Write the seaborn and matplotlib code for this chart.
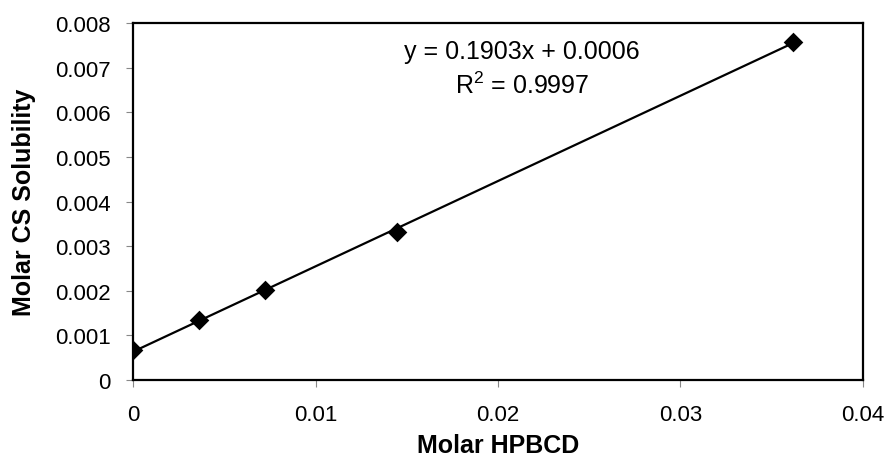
import matplotlib
matplotlib.use("Agg")
import matplotlib.pyplot as plt
import seaborn as sns
import numpy as np
import pandas as pd

# values
hpbcd = [0.0, 0.0036, 0.00723, 0.01445, 0.03615]
cs_solubility = [0.00067, 0.00134, 0.00202, 0.00331, 0.00758]
x_ticks = [0, 0.01, 0.02, 0.03, 0.04]
x_tick_labels = ["0", "0.01", "0.02", "0.03", "0.04"]
y_ticks = [0, 0.001, 0.002, 0.003, 0.004, 0.005, 0.006, 0.007, 0.008]
y_tick_labels = ["0", "0.001", "0.002", "0.003", "0.004", "0.005", "0.006", "0.007", "0.008"]
equation_text = "y = 0.1903x + 0.0006"
r2_text = "R$^2$ = 0.9997"

df = pd.DataFrame({"Molar HPBCD": hpbcd, "Molar CS Solubility": cs_solubility})

sns.set_style("ticks")
plt.rcParams["font.family"] = ["Liberation Sans", "DejaVu Sans"]
plt.rcParams["mathtext.fontset"] = "custom"
plt.rcParams["mathtext.rm"] = "Liberation Sans"
plt.rcParams["text.color"] = "black"
plt.rcParams["axes.labelcolor"] = "black"

fig = plt.figure(figsize=(8.88, 4.6), dpi=100)
ax = fig.add_axes([0.1498, 0.1717, 0.822, 0.7761])

sns.regplot(data=df, x="Molar HPBCD", y="Molar CS Solubility", ax=ax, ci=None,
            marker="D", color="black",
            scatter_kws={"s": 100, "alpha": 1, "linewidths": 0, "zorder": 3},
            line_kws={"lw": 1.6, "zorder": 2})

ax.set_xlim(0, 0.04)
ax.set_ylim(0, 0.008)
ax.set_xticks(x_ticks)
ax.set_xticklabels(x_tick_labels)
ax.set_yticks(y_ticks)
ax.set_yticklabels(y_tick_labels)
ax.tick_params(axis="both", direction="out", length=5, width=0.8, color="#888888",
               labelsize=16, labelcolor="black")
ax.tick_params(axis="x", pad=12)
ax.tick_params(axis="y", pad=11)

for side in ["top", "right", "bottom", "left"]:
    ax.spines[side].set_visible(True)
    ax.spines[side].set_linewidth(1.6)
    ax.spines[side].set_color("black")

ax.set_xlabel("Molar HPBCD", fontsize=18, fontweight="bold", labelpad=6)
ax.set_ylabel("Molar CS Solubility", fontsize=18, fontweight="bold", labelpad=14)

ax.text(0.533, 0.921, equation_text, transform=ax.transAxes, ha="center", va="center",
        fontsize=18)
ax.text(0.533, 0.826, r2_text, transform=ax.transAxes, ha="center", va="center",
        fontsize=18)

fig.savefig("out.png", dpi=100, facecolor="white")
